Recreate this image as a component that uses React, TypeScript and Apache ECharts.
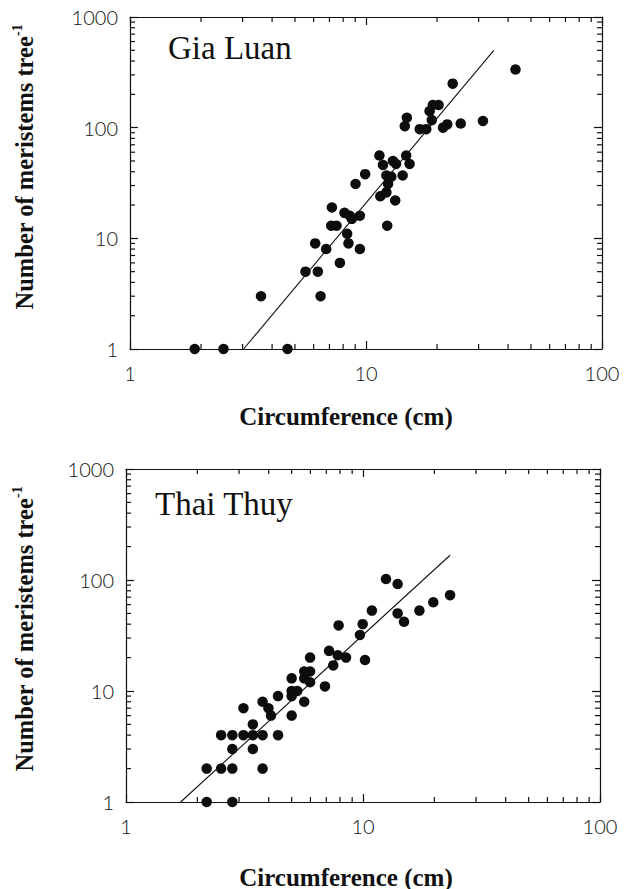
import React, { useEffect, useRef } from "react";
import * as echarts from "echarts";

// Gia Luan: circumference (cm) and number of meristems per tree
const glCirc = [1.88, 2.49, 4.65, 3.59, 5.54, 6.25, 6.42, 6.09, 6.78, 7.75,
  7.17, 7.12, 7.5, 8.11, 8.54, 8.71, 9.42, 8.32, 8.43, 9.42,
  9.03, 9.92, 11.4, 11.8, 13.0, 13.4, 12.2, 12.8, 12.4, 12.2,
  11.5, 13.3, 12.3, 14.3, 14.8, 15.3, 14.6, 14.9, 16.9, 18.0,
  19.0, 18.6, 19.2, 20.3, 21.2, 22.1, 23.3, 25.2, 31.3, 43.0];
const glMer = [1, 1, 1, 3, 5, 5, 3, 9, 8, 6,
  19, 13, 13, 17, 16, 15, 16, 11, 9, 8,
  31, 38, 56, 46, 50, 47, 37, 36, 31, 26,
  24, 22, 13, 37, 56, 47, 103, 123, 97, 97,
  117, 141, 160, 160, 100, 107, 250, 109, 115, 335];
const glFitX = [3.03, 34.8];
const glFitY = [1, 500];

// Thai Thuy
const ttCirc = [2.19, 2.81, 2.19, 2.52, 2.81, 3.77, 2.52, 2.81, 3.13, 3.43,
  3.77, 4.38, 2.81, 3.43, 3.43, 3.13, 3.77, 3.99, 4.09, 4.38,
  5.0, 5.0, 5.0, 5.28, 5.0, 5.65, 5.65, 5.65, 5.98, 5.98,
  5.98, 6.91, 7.19, 7.49, 7.82, 8.48, 7.89, 9.71, 9.97, 10.2,
  10.9, 12.5, 14.0, 14.0, 14.9, 17.3, 19.8, 23.3];
const ttMer = [1, 1, 2, 2, 2, 2, 4, 4, 4, 4,
  4, 4, 3, 3, 5, 7, 8, 7, 6, 9,
  6, 9, 10, 10, 13, 8, 13, 15, 15, 12,
  20, 11, 23, 17, 21, 20, 39, 32, 40, 19,
  53, 102, 92, 50, 42, 53, 63, 73];
const ttFitX = [1.7, 23.3];
const ttFitY = [1, 167];

const siteNames = ["Gia Luan", "Thai Thuy"];
const xTitle = "Circumference (cm)";
const yTitle = "Number of meristems tree";
const xMinorTicks = [2, 3, 4, 5, 6, 7, 8, 9, 20, 30, 40, 50, 60, 70, 80, 90];
const yMinorTicks = [2, 3, 4, 5, 6, 7, 8, 9, 20, 30, 40, 50, 60, 70, 80, 90, 200, 300, 400, 500, 600, 700, 800, 900];

const INK = "#111111";
const labelFont = { fontFamily: "Lato", fontWeight: 300 as any, fontSize: 20, color: INK };
const serifBold = "'Liberation Serif', 'Times New Roman', serif";
const fmt = (v: number) => String(Math.round(v));

function xAxes(grid: number) {
  const base = {
    type: "log" as const, logBase: 10, min: 1, max: 100, gridIndex: grid,
    axisLine: { show: true, lineStyle: { color: INK, width: 1.2 } },
    axisTick: { show: true, inside: true, length: 8, lineStyle: { color: INK, width: 1.2 } },
    splitLine: { show: false }, minorTick: { show: false },
  };
  return [
    { ...base, position: "bottom", axisLabel: { ...labelFont, margin: 14, formatter: fmt } },
    { ...base, position: "top", axisLabel: { show: false } },
  ];
}
function yAxes(grid: number) {
  const base = {
    type: "log" as const, logBase: 10, min: 1, max: 1000, gridIndex: grid,
    axisLine: { show: true, lineStyle: { color: INK, width: 1.2 } },
    axisTick: { show: true, inside: true, length: 8, lineStyle: { color: INK, width: 1.2 } },
    splitLine: { show: false }, minorTick: { show: false },
  };
  return [
    { ...base, position: "left", axisLabel: { ...labelFont, margin: 12, formatter: fmt } },
    { ...base, position: "right", axisLabel: { show: false } },
  ];
}

const tickStyle = { stroke: INK, lineWidth: 1.2 };
function minorX(grid: number) {
  return {
    type: "custom", xAxisIndex: grid * 2, yAxisIndex: grid * 2, silent: true, clip: false, z: 5,
    data: xMinorTicks.map((v) => [v, 1]),
    renderItem: (params: any, api: any) => {
      const cs = params.coordSys;
      const p = api.coord([api.value(0), api.value(1)]);
      return {
        type: "group", children: [
          { type: "line", shape: { x1: p[0], y1: cs.y + cs.height, x2: p[0], y2: cs.y + cs.height - 5 }, style: tickStyle },
          { type: "line", shape: { x1: p[0], y1: cs.y, x2: p[0], y2: cs.y + 5 }, style: tickStyle },
        ],
      };
    },
  };
}
function minorY(grid: number) {
  return {
    type: "custom", xAxisIndex: grid * 2, yAxisIndex: grid * 2, silent: true, clip: false, z: 5,
    data: yMinorTicks.map((v) => [1, v]),
    renderItem: (params: any, api: any) => {
      const cs = params.coordSys;
      const p = api.coord([api.value(0), api.value(1)]);
      return {
        type: "group", children: [
          { type: "line", shape: { x1: cs.x, y1: p[1], x2: cs.x + 5, y2: p[1] }, style: tickStyle },
          { type: "line", shape: { x1: cs.x + cs.width, y1: p[1], x2: cs.x + cs.width - 5, y2: p[1] }, style: tickStyle },
        ],
      };
    },
  };
}

function scatter(grid: number, xs: number[], ys: number[]) {
  return {
    type: "scatter", xAxisIndex: grid * 2, yAxisIndex: grid * 2, clip: false, z: 4,
    symbol: "circle", symbolSize: 10.5, itemStyle: { color: "#0d0d0d", opacity: 1 },
    data: xs.map((x, i) => [x, ys[i]]),
  };
}
function fit(grid: number, xs: number[], ys: number[]) {
  return {
    type: "line", xAxisIndex: grid * 2, yAxisIndex: grid * 2, symbol: "none",
    lineStyle: { color: INK, width: 1.1 },
    data: xs.map((x, i) => [x, ys[i]]),
  };
}

function yTitleText(x: number, y: number) {
  return {
    type: "text", x, y, rotation: Math.PI / 2,
    style: {
      text: `{a|${yTitle}}{s|-1}`,
      align: "center", verticalAlign: "middle",
      rich: {
        a: { fontFamily: serifBold, fontWeight: "bold", fontSize: 24.5, lineHeight: 28, fill: INK },
        s: { fontFamily: serifBold, fontWeight: "bold", fontSize: 14, verticalAlign: "top", lineHeight: 28, padding: [0, 0, 10, 0], fill: INK },
      },
    },
  };
}

export default function App() {
  const ref = useRef<HTMLDivElement>(null);
  useEffect(() => {
    if (!ref.current) return;
    const chart = echarts.init(ref.current, undefined, { renderer: "svg" });
    chart.setOption({
      animation: false,
      backgroundColor: "#ffffff",
      grid: [
        { left: 130, top: 17, width: 472, height: 332 },
        { left: 126, top: 469, width: 474, height: 333 },
      ],
      xAxis: [...xAxes(0), ...xAxes(1)],
      yAxis: [...yAxes(0), ...yAxes(1)],
      series: [
        minorX(0), minorY(0), minorX(1), minorY(1),
        fit(0, glFitX, glFitY), fit(1, ttFitX, ttFitY),
        scatter(0, glCirc, glMer), scatter(1, ttCirc, ttMer),
      ],
      graphic: [
        { type: "text", x: 168, y: 64, style: { text: siteNames[0], fontFamily: serifBold, fontSize: 33, fill: INK, align: "left", verticalAlign: "bottom" } },
        { type: "text", x: 155, y: 520, style: { text: siteNames[1], fontFamily: serifBold, fontSize: 33, fill: INK, align: "left", verticalAlign: "bottom" } },
        { type: "text", x: 346, y: 416, style: { text: xTitle, fontFamily: serifBold, fontWeight: "bold", fontSize: 25, fill: INK, align: "center", verticalAlign: "middle" } },
        { type: "text", x: 346, y: 877, style: { text: xTitle, fontFamily: serifBold, fontWeight: "bold", fontSize: 25, fill: INK, align: "center", verticalAlign: "middle" } },
        yTitleText(24, 167),
        yTitleText(24, 629),
      ],
    });
    return () => chart.dispose();
  }, []);
  return <div ref={ref} style={{ position: "absolute", left: 0, top: 0, width: 625, height: 889, background: "#fff" }} />;
}
